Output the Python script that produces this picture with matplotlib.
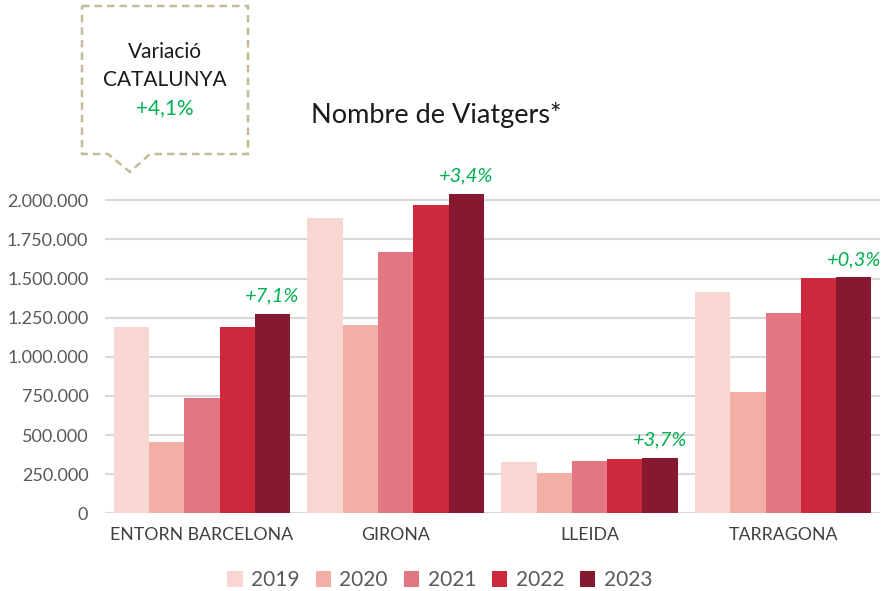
import matplotlib.pyplot as plt
import matplotlib
from matplotlib.patches import Polygon
from matplotlib.ticker import FuncFormatter
import numpy as np

matplotlib.rcParams['font.family'] = ['Lato', 'DejaVu Sans']

categories = ['ENTORN BARCELONA', 'GIRONA', 'LLEIDA', 'TARRAGONA']
years = ['2019', '2020', '2021', '2022', '2023']
v2019 = [1192000, 1885000, 326000, 1412000]
v2020 = [454000, 1203000, 258000, 775000]
v2021 = [739000, 1668000, 334000, 1280000]
v2022 = [1192000, 1970000, 345000, 1505000]
v2023 = [1275000, 2040000, 355000, 1508000]
variacions = ['+7,1%', '+3,4%', '+3,7%', '+0,3%']
colors = ['#F8D7D3', '#F1AFA6', '#E37683', '#CD283C', '#86182F']
green = '#00B050'
grey = '#595959'

fig = plt.figure(figsize=(8.81, 5.91), dpi=100)
ax = fig.add_axes([0.1192, 0.1315, 0.8797, 0.564])

x = np.arange(len(categories))
w = 0.182
series = [v2019, v2020, v2021, v2022, v2023]
for i, vals in enumerate(series):
    ax.bar(x + (i - 2) * w, vals, w, color=colors[i], label=years[i], zorder=3)

# etiquetes de variació sobre la barra 2023
for xi, v, t in zip(x, v2023, variacions):
    ax.text(xi + 2 * w, v + 60000, t, color=green, style='italic', fontsize=14.5,
            ha='center', va='bottom')

ax.set_xlim(-0.5, 3.5)
ax.set_ylim(0, 2130000)
ax.set_yticks(np.arange(0, 2000001, 250000))
ax.yaxis.set_major_formatter(FuncFormatter(lambda v, p: f'{int(v):,}'.replace(',', '.')))
ax.set_xticks(x)
ax.set_xticklabels(categories)
ax.tick_params(axis='y', length=0, labelsize=13, labelcolor=grey, pad=12)
ax.tick_params(axis='x', length=0, labelsize=12.8, labelcolor='#404040', pad=10)
ax.grid(axis='y', color='#D9D9D9', linewidth=1.5, zorder=0)
for s in ax.spines.values():
    s.set_visible(False)

fig.text(0.495, 0.805, 'Nombre de Viatgers*', fontsize=19.5, ha='center', va='center', color='#1a1a1a')

leg = ax.legend(loc='upper center', bbox_to_anchor=(0.432, -0.115), ncol=5, frameon=False,
                fontsize=15, handlelength=0.75, handleheight=0.75, handletextpad=0.4,
                columnspacing=0.75)
for t in leg.get_texts():
    t.set_color(grey)

# requadre Catalunya
px = lambda X: X / 881
py = lambda Y: 1 - Y / 591
box = [(82, 6), (248, 6), (248, 154), (150, 154), (130, 172), (108, 154), (82, 154)]
poly = Polygon([(px(a), py(b)) for a, b in box], closed=True, transform=fig.transFigure,
               facecolor='white', edgecolor='#C4BC96', linestyle=(0, (3, 2)), linewidth=1.8)
fig.patches.append(poly)
fig.text(px(165), py(52), 'Variació', fontsize=15, ha='center', va='center', color='#1a1a1a')
fig.text(px(165), py(80), 'CATALUNYA', fontsize=15, ha='center', va='center', color='#1a1a1a')
fig.text(px(165), py(108), '+4,1%', fontsize=15, ha='center', va='center', color=green)

plt.savefig('out.png', dpi=100)
